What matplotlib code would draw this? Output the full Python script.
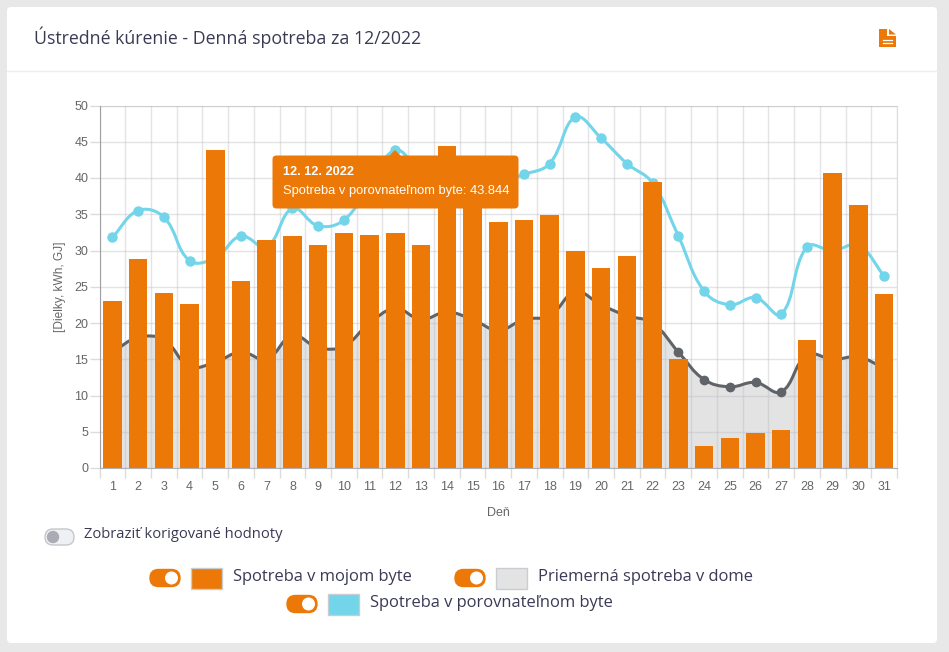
import numpy as np
import matplotlib
matplotlib.use('Agg')
import matplotlib.pyplot as plt
from matplotlib.patches import FancyBboxPatch, PathPatch, Polygon, Rectangle, Circle
from matplotlib.path import Path

# Datos
dias = list(range(1, 32))
mi_byte = [23, 28.8, 24.1, 22.6, 43.8, 25.8, 31.5, 32, 30.8, 32.4, 32.1, 32.4, 30.7, 44.4, 38,
           34, 34.2, 34.9, 30, 27.6, 29.3, 39.4, 15.1, 3.1, 4.2, 4.8, 5.2, 17.6, 40.7, 36.3, 24]
dom = [16, 18, 17.7, 14, 14.6, 16, 15, 18.3, 16.6, 16.8, 20, 22, 20.5, 21.5, 20.5,
       19, 20.5, 21, 24.3, 22.5, 21, 20, 16, 12.2, 11.2, 11.8, 10.5, 15.6, 15, 15.3, 13.8]
porovnatelny = [31.8, 35.5, 34.6, 28.6, 29, 32, 30.5, 35.8, 33.4, 34.2, 39, 43.844, 41, 40, 39,
                39.5, 40.5, 42, 48.4, 45.5, 42, 39.3, 32, 24.4, 22.5, 23.5, 21.2, 30.5, 30, 30.7, 26.5]
y_ticks = [0, 5, 10, 15, 20, 25, 30, 35, 40, 45, 50]

titulo = 'Ústredné kúrenie - Denná spotreba za 12/2022'
tooltip_fecha = '12. 12. 2022'
tooltip_valor = 'Spotreba v porovnateľnom byte: 43.844'

NARANJA = '#ec7807'
AZUL = '#72d5ea'
GRIS_LINEA = '#606367'
GRIS_RELLENO = '#e3e3e3'
TEXTO = '#3a3a55'
UI_FONT = 'Open Sans'
CHART_FONT = 'Liberation Sans'

W, H = 949, 652


def curva_suave(xs, ys, tension=0.4):
    # Curva bezier tipo Chart.js que pasa por los puntos
    px_x = 25.72
    px_y = 7.25
    n = len(xs)
    c1, c2 = [], []
    for i in range(n):
        xp, yp = xs[max(i - 1, 0)], ys[max(i - 1, 0)]
        xn, yn = xs[min(i + 1, n - 1)], ys[min(i + 1, n - 1)]
        d01 = np.hypot((xs[i] - xp) * px_x, (ys[i] - yp) * px_y)
        d12 = np.hypot((xn - xs[i]) * px_x, (yn - ys[i]) * px_y)
        total = d01 + d12
        fa = tension * d01 / total
        fb = tension * d12 / total
        c1.append((xs[i] - fa * (xn - xp), ys[i] - fa * (yn - yp)))
        c2.append((xs[i] + fb * (xn - xp), ys[i] + fb * (yn - yp)))
    verts = [(xs[0], ys[0])]
    codes = [Path.MOVETO]
    for i in range(n - 1):
        verts += [c2[i], c1[i + 1], (xs[i + 1], ys[i + 1])]
        codes += [Path.CURVE4] * 3
    return verts, codes


def interruptor(ax, x, y, w=30, h=17, activo=True):
    color = NARANJA if activo else '#eef0f3'
    borde = NARANJA if activo else '#c4c7cc'
    ax.add_patch(FancyBboxPatch((x, y - h / 2), w, h,
                                boxstyle=f'round,pad=0,rounding_size={h / 2}',
                                fc=color, ec=borde, lw=1))
    if activo:
        ax.add_patch(Circle((x + w - h / 2, y), 6.5, fc='white', ec='none'))
    else:
        ax.add_patch(Circle((x + h / 2, y), 6.2, fc='#a9adb3', ec='none'))


def muestra(ax, x, y, color, w=31, h=21):
    ax.add_patch(Rectangle((x, y), w, h, fc=color, ec='#c9ccd0', lw=1))


def crear_grafico():
    fig = plt.figure(figsize=(W / 100, H / 100), dpi=100, facecolor='#e8e8e8')

    # Tarjeta de fondo en coordenadas de pixel
    fondo = fig.add_axes([0, 0, 1, 1], zorder=0)
    fondo.set_xlim(0, W)
    fondo.set_ylim(H, 0)
    fondo.axis('off')
    fondo.add_patch(FancyBboxPatch((7, 7), 930, 636, boxstyle='round,pad=0,rounding_size=4',
                                   fc='white', ec='none'))
    fondo.plot([7, 937], [70.5, 70.5], color='#ececf2', lw=1)
    fondo.text(34, 37, titulo, fontsize=12.75, family=UI_FONT, color=TEXTO, va='center', ha='left')

    # Icono de documento
    fondo.add_patch(Polygon([(879, 29), (887, 29), (887, 36), (896, 36), (896, 47), (879, 47)],
                            fc=NARANJA, ec='none'))
    fondo.add_patch(Polygon([(889, 29), (896, 34.5), (889, 34.5)], fc=NARANJA, ec='none'))
    fondo.plot([883, 892], [39.5, 39.5], color='white', lw=0.9)
    fondo.plot([883, 892], [43, 43], color='white', lw=0.9)

    # Grafico principal
    ax = fig.add_axes([99.5 / W, 1 - 468 / H, (897 - 99.5) / W, (468 - 105.5) / H], zorder=1)
    ax.patch.set_alpha(0)
    ax.set_xlim(0.5, 31.5)
    ax.set_ylim(0, 50)

    x = np.array(dias, dtype=float)

    # Promedio de la casa: relleno y linea
    verts, codes = curva_suave(x, dom)
    cerrado = verts + [(x[-1], 0), (x[0], 0), (x[0], dom[0])]
    codes_c = codes + [Path.LINETO, Path.LINETO, Path.CLOSEPOLY]
    ax.add_patch(PathPatch(Path(cerrado, codes_c), fc=GRIS_RELLENO, ec='none', zorder=1))
    ax.add_patch(PathPatch(Path(verts, codes), fc='none', ec=GRIS_LINEA, lw=2.2, zorder=3))
    ax.plot(x, dom, 'o', color=GRIS_LINEA, ms=7, mew=0, zorder=3)

    # Apartamento comparable
    verts, codes = curva_suave(x, porovnatelny)
    ax.add_patch(PathPatch(Path(verts, codes), fc='none', ec=AZUL, lw=2.2, zorder=3))
    ax.plot(x, porovnatelny, 'o', color=AZUL, ms=7.5, mew=0, zorder=3)

    # Mi apartamento
    ax.bar(x, mi_byte, width=0.72, color=NARANJA, zorder=4)

    ax.set_xticks(np.arange(0.5, 32.5, 1))
    ax.set_xticks(x, minor=True)
    ax.set_xticklabels([])
    ax.set_xticklabels([str(d) for d in dias], minor=True)
    ax.set_yticks(y_ticks)
    ax.set_axisbelow(False)
    ax.grid(True, color='#b9b9c2', alpha=0.38, lw=1, zorder=2)
    for g in ax.get_xgridlines() + ax.get_ygridlines():
        g.set_zorder(2)
    ax.tick_params(axis='x', which='major', length=7, width=1, color='#dcdcdc', labelbottom=False)
    ax.tick_params(axis='x', which='minor', length=0, pad=9.5, labelsize=9, labelcolor='#666666')
    ax.tick_params(axis='y', length=7, width=1, color='#dcdcdc', pad=1, labelsize=9, labelcolor='#666666')
    for lab in ax.get_xticklabels(minor=True) + ax.get_yticklabels():
        lab.set_fontfamily(CHART_FONT)
    for lado in ['top', 'right']:
        ax.spines[lado].set_color('#dddddd')
    ax.spines['left'].set_color('#a0a0a0')
    ax.spines['bottom'].set_color('#b0b0b0')
    ax.spines['left'].set_zorder(5)
    ax.spines['bottom'].set_zorder(5)
    ax.set_xlabel('Deň', family=CHART_FONT, fontsize=9, color='#666666', labelpad=10)
    ax.set_ylabel('[Dielky, kWh, GJ]', family=CHART_FONT, fontsize=8.6, color='#666666', labelpad=6)

    # Capa superior: tooltip y controles
    capa = fig.add_axes([0, 0, 1, 1], zorder=2)
    capa.set_xlim(0, W)
    capa.set_ylim(H, 0)
    capa.axis('off')
    capa.add_patch(FancyBboxPatch((272.5, 155.5), 246, 53, boxstyle='round,pad=0,rounding_size=4',
                                  fc=NARANJA, ec='none'))
    capa.add_patch(Polygon([(389, 156), (395, 150), (401, 156)], fc=NARANJA, ec='none'))
    capa.text(283, 172, tooltip_fecha, family=CHART_FONT, fontsize=9.2, fontweight='bold',
              color='white', va='center')
    capa.text(283, 191, tooltip_valor, family=CHART_FONT, fontsize=9.25, color='white', va='center')

    interruptor(capa, 45, 537, w=29, h=16, activo=False)
    capa.text(84, 535, 'Zobraziť korigované hodnoty', family=UI_FONT, fontsize=10.6,
              color=TEXTO, va='center')

    interruptor(capa, 150, 578)
    muestra(capa, 191, 568, NARANJA)
    capa.text(233, 577, 'Spotreba v mojom byte', family=UI_FONT, fontsize=11.85, color=TEXTO, va='center')

    interruptor(capa, 455, 578)
    muestra(capa, 496, 568, GRIS_RELLENO)
    capa.text(538, 577, 'Priemerná spotreba v dome', family=UI_FONT, fontsize=11.85, color=TEXTO, va='center')

    interruptor(capa, 287, 604)
    muestra(capa, 328, 594, AZUL)
    capa.text(370, 603, 'Spotreba v porovnateľnom byte', family=UI_FONT, fontsize=11.85, color=TEXTO, va='center')

    fig.savefig('out.png', dpi=100, facecolor=fig.get_facecolor())
    plt.close(fig)


if __name__ == "__main__":
    crear_grafico()
